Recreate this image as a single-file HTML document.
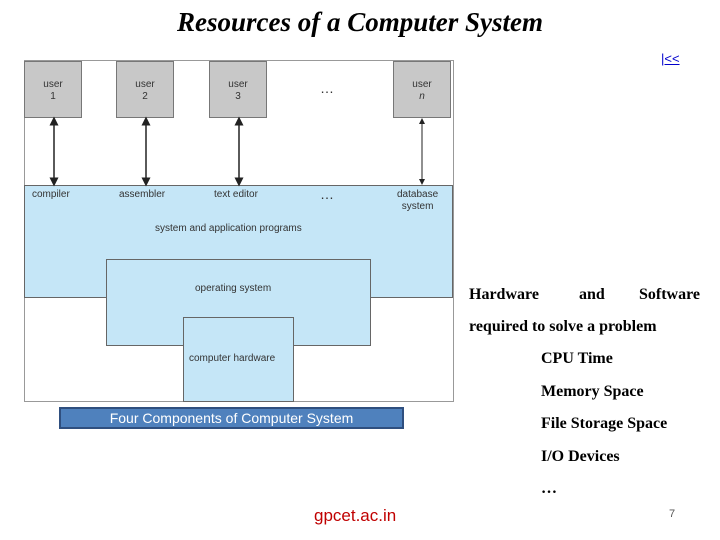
<!DOCTYPE html><html><head><style>
body{margin:0;width:720px;height:540px;background:#fff;position:relative;overflow:hidden;font-family:"Liberation Sans",sans-serif}
.a{position:absolute}
.u{position:absolute;top:61px;width:58px;height:57px;background:#c8c8c8;border:1px solid #777;box-sizing:border-box;text-align:center;font-size:10px;color:#333;padding-top:17px;line-height:12px}
.bl{background:#c5e6f7;border:1px solid #666;box-sizing:border-box}
.t{position:absolute;font-size:10px;color:#333;text-align:center}
.s{position:absolute;font-family:"Liberation Serif",serif;font-weight:bold;font-size:16px;color:#000}
</style></head><body>
<div class="a" style="left:0;top:7px;width:720px;text-align:center;font-family:'Liberation Serif',serif;font-style:italic;font-weight:bold;font-size:27px">Resources of a Computer System</div>
<div class="a" style="left:661px;top:51px;font-size:13px;color:#00c;text-decoration:underline">|&lt;&lt;</div>
<div class="a" style="left:24px;top:60px;width:430px;height:342px;border:1px solid #999;box-sizing:border-box"></div>
<div class="a bl" style="left:24px;top:185px;width:429px;height:113px"></div>
<div class="a bl" style="left:106px;top:259px;width:265px;height:87px"></div>
<div class="a bl" style="left:183px;top:317px;width:111px;height:85px"></div>
<div class="u" style="left:24px">user<br>1</div>
<div class="u" style="left:116px">user<br>2</div>
<div class="u" style="left:209px">user<br>3</div>
<div class="u" style="left:393px">user<br><i>n</i></div>
<div class="t" style="left:320px;top:80px;font-size:14px">…</div>
<svg class="a" style="left:0;top:0" width="460" height="200">
<defs><marker id="m" markerWidth="6" markerHeight="6" refX="3" refY="3" orient="auto-start-reverse"><path d="M0,0L6,3L0,6z" fill="#222"/></marker></defs>
<g stroke="#222" stroke-width="1.5" marker-start="url(#m)" marker-end="url(#m)">
<line x1="54" y1="121" x2="54" y2="182"/><line x1="146" y1="121" x2="146" y2="182"/><line x1="239" y1="121" x2="239" y2="182"/><line x1="422" y1="121" x2="422" y2="182" stroke-width="1"/></g></svg>
<div class="t" style="left:32px;top:189px">compiler</div>
<div class="t" style="left:119px;top:189px">assembler</div>
<div class="t" style="left:214px;top:189px">text editor</div>
<div class="t" style="left:320px;top:186px;font-size:14px">…</div>
<div class="t" style="left:397px;top:189px;line-height:12px">database<br>system</div>
<div class="t" style="left:155px;top:223px">system and application programs</div>
<div class="t" style="left:195px;top:283px">operating system</div>
<div class="t" style="left:189px;top:353px">computer hardware</div>
<div class="a" style="left:59px;top:407px;width:345px;height:22px;background:#4f81bd;border:2px solid #2f4f7f;box-sizing:border-box;color:#fff;font-size:14px;text-align:center;line-height:18px">Four Components of Computer System</div>
<div class="s" style="left:469px;top:286px">Hardware</div>
<div class="s" style="left:579px;top:286px">and</div>
<div class="s" style="left:639px;top:286px">Software</div>
<div class="s" style="left:469px;top:318px">required to solve a problem</div>
<div class="s" style="left:541px;top:350px">CPU Time</div>
<div class="s" style="left:541px;top:383px">Memory Space</div>
<div class="s" style="left:541px;top:415px">File Storage Space</div>
<div class="s" style="left:541px;top:448px">I/O Devices</div>
<div class="s" style="left:541px;top:480px">…</div>
<div class="a" style="left:314px;top:506px;color:#c00000;font-size:17px">gpcet.ac.in</div>
<div class="a" style="left:669px;top:508px;color:#555;font-size:11px">7</div>
</body></html>
